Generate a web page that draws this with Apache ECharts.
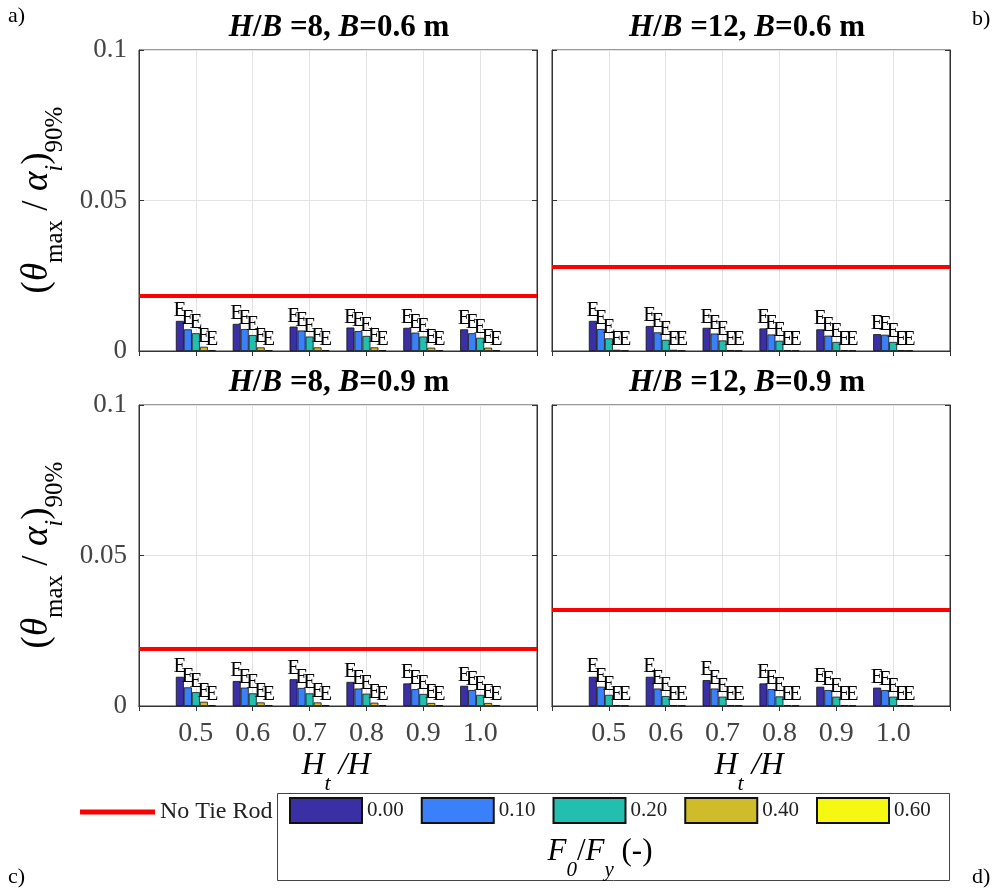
<!DOCTYPE html>
<html>
<head>
<meta charset="utf-8">
<script src="https://cdn.jsdelivr.net/npm/echarts@6/dist/echarts.min.js"></script>
<style>html,body{margin:0;padding:0;background:#fff}#c{width:1000px;height:895px}</style>
</head>
<body>
<div id="c"></div>
<script>
// ---- data ----
const xCats = ['0.5', '0.6', '0.7', '0.8', '0.9', '1.0'];
const seriesNames = ['0.00', '0.10', '0.20', '0.40', '0.60'];
const yTicks = [0, 0.05, 0.1];

// panel a) H/B=8, B=0.6 m
const a000 = [0.0100, 0.0090, 0.0081, 0.0078, 0.0077, 0.0072];
const a010 = [0.0072, 0.0073, 0.0068, 0.0066, 0.0061, 0.0059];
const a020 = [0.0059, 0.0053, 0.0048, 0.0050, 0.0048, 0.0044];
const a040 = [0.0014, 0.0012, 0.0012, 0.0012, 0.0011, 0.0011];
const a060 = [0.0003, 0.0003, 0.0003, 0.0003, 0.0003, 0.0003];
const aNoTie = 0.0183;
// panel b) H/B=12, B=0.6 m
const b000 = [0.0100, 0.0083, 0.0077, 0.0075, 0.0072, 0.0056];
const b010 = [0.0073, 0.0062, 0.0058, 0.0055, 0.0051, 0.0054];
const b020 = [0.0042, 0.0037, 0.0035, 0.0034, 0.0030, 0.0030];
const b040 = [0.0004, 0.0004, 0.0003, 0.0003, 0.0003, 0.0003];
const b060 = [0.0002, 0.0002, 0.0002, 0.0002, 0.0002, 0.0002];
const bNoTie = 0.0279;
// panel c) H/B=8, B=0.9 m
const c000 = [0.0097, 0.0083, 0.0089, 0.0080, 0.0075, 0.0067];
const c010 = [0.0062, 0.0061, 0.0060, 0.0058, 0.0056, 0.0053];
const c020 = [0.0046, 0.0042, 0.0042, 0.0041, 0.0040, 0.0037];
const c040 = [0.0014, 0.0012, 0.0012, 0.0011, 0.0010, 0.0010];
const c060 = [0.0003, 0.0003, 0.0003, 0.0003, 0.0003, 0.0003];
const cNoTie = 0.0189;
// panel d) H/B=12, B=0.9 m
const d000 = [0.0097, 0.0097, 0.0086, 0.0075, 0.0064, 0.0061];
const d010 = [0.0064, 0.0058, 0.0058, 0.0056, 0.0053, 0.0053];
const d020 = [0.0037, 0.0033, 0.0031, 0.0032, 0.0031, 0.0031];
const d040 = [0.0003, 0.0003, 0.0003, 0.0003, 0.0003, 0.0003];
const d060 = [0.0002, 0.0002, 0.0002, 0.0002, 0.0002, 0.0002];
const dNoTie = 0.0319;

const colors = ['#3b2fa6', '#3a80fb', '#22bfb0', '#d0bb2a', '#f7f714'];
const serif = 'Liberation Serif';

const panels = [
  { vals: [a000, a010, a020, a040, a060], noTie: aNoTie, left: 139, top: 50, yLabels: true, xLabels: false },
  { vals: [b000, b010, b020, b040, b060], noTie: bNoTie, left: 552, top: 50, yLabels: false, xLabels: false },
  { vals: [c000, c010, c020, c040, c060], noTie: cNoTie, left: 139, top: 405, yLabels: true, xLabels: true },
  { vals: [d000, d010, d020, d040, d060], noTie: dNoTie, left: 552, top: 405, yLabels: false, xLabels: true }
];
const W = 398, H = 301;

// padded categories so the axis spans 0.4 .. 1.1
const axisCats = [' ', ...xCats, '  '];

const grids = [], xAxes = [], yAxes = [], series = [];
panels.forEach((p, i) => {
  grids.push({ left: p.left, top: p.top, width: W, height: H, show: true, borderColor: '#333', borderWidth: 1, backgroundColor: '#fff' });
  xAxes.push({
    type: 'category', gridIndex: i, data: axisCats, boundaryGap: false,
    axisLine: { show: true, lineStyle: { color: '#333', width: 1 } },
    axisTick: { show: true, inside: true, length: 5, lineStyle: { color: '#333' } },
    axisLabel: { show: p.xLabels, fontFamily: serif, fontSize: 28, color: '#444', margin: 14 },
    splitLine: { show: true, lineStyle: { color: '#e3e3e3', width: 1 } }
  });
  xAxes.push({
    type: 'category', gridIndex: i, data: axisCats, boundaryGap: false, position: 'top',
    axisLine: { show: true, lineStyle: { color: '#333', width: 1 } },
    axisTick: { show: true, inside: true, length: 5, lineStyle: { color: '#333' } },
    axisLabel: { show: false }, splitLine: { show: false }
  });
  yAxes.push({
    type: 'value', gridIndex: i, min: 0, max: 0.1, interval: 0.05,
    axisLine: { show: true, lineStyle: { color: '#333', width: 1 } },
    axisTick: { show: true, inside: true, length: 5, lineStyle: { color: '#333' } },
    axisLabel: {
      show: p.yLabels, fontFamily: serif, fontSize: 27, color: '#444', margin: 12,
      formatter: v => { const t = yTicks.find(x => Math.abs(x - v) < 1e-9); return t === undefined ? '' : String(t); }
    },
    splitLine: { show: true, lineStyle: { color: '#e3e3e3', width: 1 } }
  });
  yAxes.push({
    type: 'value', gridIndex: i, min: 0, max: 0.1, interval: 0.05, position: 'right',
    axisLine: { show: true, lineStyle: { color: '#333', width: 1 } },
    axisTick: { show: true, inside: true, length: 5, lineStyle: { color: '#333' } },
    axisLabel: { show: false }, splitLine: { show: false }
  });
  p.vals.forEach((arr, k) => {
    series.push({
      name: seriesNames[k], type: 'bar', xAxisIndex: 2 * i, yAxisIndex: 2 * i,
      data: [null, ...arr, null],
      barWidth: 8, barGap: '0%',
      itemStyle: { color: colors[k], borderColor: '#111', borderWidth: 0.8 },
      label: { show: true, position: 'top', distance: 0, formatter: 'E', fontFamily: serif, fontSize: 21, color: '#000' },
      labelLayout: { hideOverlap: false }
    });
  });
  series.push({
    name: 'No Tie Rod', type: 'line', xAxisIndex: 2 * i, yAxisIndex: 2 * i,
    data: [], itemStyle: { color: '#ff0000' }, lineStyle: { color: '#ff0000', width: 4 },
    markLine: { symbol: 'none', silent: true, precision: 6, label: { show: false },
      lineStyle: { color: '#ff0000', width: 4, type: 'solid' }, data: [{ yAxis: p.noTie }] }
  });
});

const titleRich = {
  bi: { fontFamily: serif, fontSize: 31, fontWeight: 'bold', fontStyle: 'italic', color: '#000' },
  b: { fontFamily: serif, fontSize: 31, fontWeight: 'bold', color: '#000' }
};
const yNameRich = {
  p: { fontFamily: serif, fontSize: 37, color: '#333', lineHeight: 42, verticalAlign: 'middle' },
  t: { fontFamily: serif, fontSize: 37, fontStyle: 'italic', color: '#333', lineHeight: 42, verticalAlign: 'middle' },
  s: { fontFamily: serif, fontSize: 25, color: '#333', lineHeight: 22, verticalAlign: 'bottom', padding: [0, 0, -10, 0] },
  si: { fontFamily: serif, fontSize: 25, fontStyle: 'italic', color: '#333', lineHeight: 22, verticalAlign: 'bottom', padding: [0, 0, -10, 0] }
};
const yNameText = '{p|(}{t|θ}{s|max}{p| / }{t|α}{si|i}{p|)}{s|90%}';
const xNameText = '{t|H}{si|t}{t| /H}';
const xNameRich = {
  t: { fontFamily: serif, fontSize: 32, fontStyle: 'italic', color: '#444', lineHeight: 34, verticalAlign: 'middle' },
  si: { fontFamily: serif, fontSize: 22, fontStyle: 'italic', color: '#444', lineHeight: 20, verticalAlign: 'bottom', padding: [0, 0, -12, 0] }
};
function txt(x, y, text, rich, extra) {
  return Object.assign({ type: 'text', x: x, y: y, style: { text: text, rich: rich, align: 'center', verticalAlign: 'middle' } }, extra || {});
}
const letterFont = { fontFamily: serif, fontSize: 22, fill: '#000' };

const graphic = [
  txt(339, 28, '{bi|H}{b|/}{bi|B}{b| =8, }{bi|B}{b|=0.6 m}', titleRich),
  txt(747, 28, '{bi|H}{b|/}{bi|B}{b| =12, }{bi|B}{b|=0.6 m}', titleRich),
  txt(339, 383, '{bi|H}{b|/}{bi|B}{b| =8, }{bi|B}{b|=0.9 m}', titleRich),
  txt(747, 383, '{bi|H}{b|/}{bi|B}{b| =12, }{bi|B}{b|=0.9 m}', titleRich),
  txt(37, 200, yNameText, yNameRich, { rotation: Math.PI / 2 }),
  txt(37, 555, yNameText, yNameRich, { rotation: Math.PI / 2 }),
  txt(336, 766, xNameText, xNameRich),
  txt(749, 766, xNameText, xNameRich),
  { type: 'text', x: 8, y: 5, style: Object.assign({ text: 'a)' }, letterFont) },
  { type: 'text', x: 972, y: 8, style: Object.assign({ text: 'b)' }, letterFont) },
  { type: 'text', x: 8, y: 866, style: Object.assign({ text: 'c)' }, letterFont) },
  { type: 'text', x: 972, y: 866, style: Object.assign({ text: 'd)' }, letterFont) },
  { type: 'rect', shape: { x: 277.5, y: 793.5, width: 672, height: 87 }, style: { fill: 'none', stroke: '#444', lineWidth: 1 }, z: -1 },
  txt(600, 852, '{t|F}{si|0}{p|/}{t|F}{si|y}{p| (-)}', {
    t: { fontFamily: serif, fontSize: 31, fontStyle: 'italic', color: '#222', lineHeight: 34, verticalAlign: 'middle' },
    p: { fontFamily: serif, fontSize: 31, color: '#222', lineHeight: 34, verticalAlign: 'middle' },
    si: { fontFamily: serif, fontSize: 21, fontStyle: 'italic', color: '#222', lineHeight: 20, verticalAlign: 'bottom', padding: [0, 0, -12, 0] }
  })
];

const chart = echarts.init(document.getElementById('c'), null, { renderer: 'canvas' });
chart.setOption({
  animation: false,
  backgroundColor: '#fff',
  grid: grids, xAxis: xAxes, yAxis: yAxes, series: series,
  legend: [
    { data: ['No Tie Rod'], left: 80, top: 800, icon: 'rect', itemWidth: 75, itemHeight: 5, itemGap: 0,
      textStyle: { fontFamily: serif, fontSize: 24, color: '#222' }, padding: 0 },
    { data: seriesNames, left: 289, top: 797, icon: 'rect', itemWidth: 72, itemHeight: 25, itemGap: 17,
      textStyle: { fontFamily: serif, fontSize: 21, color: '#222' }, padding: 0 }
  ],
  graphic: graphic
});
</script>
</body>
</html>
